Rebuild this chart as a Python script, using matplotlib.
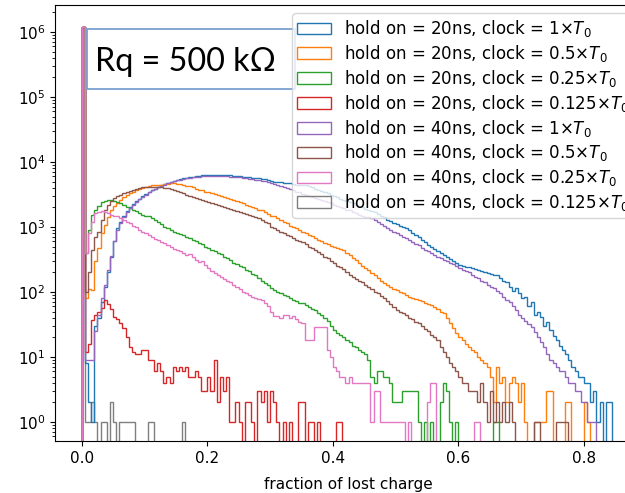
import numpy as np
import matplotlib
matplotlib.use("Agg")
import matplotlib.pyplot as plt
from matplotlib.patches import Rectangle

# histogram bin edges: 0.005 wide, 0 .. 0.85
edges = np.round(np.arange(0, 0.8501, 0.005), 4)

labels = [r"hold on = 20ns, clock = 1$\times T_0$",
          r"hold on = 20ns, clock = 0.5$\times T_0$",
          r"hold on = 20ns, clock = 0.25$\times T_0$",
          r"hold on = 20ns, clock = 0.125$\times T_0$",
          r"hold on = 40ns, clock = 1$\times T_0$",
          r"hold on = 40ns, clock = 0.5$\times T_0$",
          r"hold on = 40ns, clock = 0.25$\times T_0$",
          r"hold on = 40ns, clock = 0.125$\times T_0$"]

# counts per bin (trailing empty bins left out)
h20_c1 = [1200000, 8, 2, 1, 30, 40, 70, 120, 200, 340,
          600, 950, 1200, 1450, 1750, 2000, 2250, 2500, 2700, 2950,
          3200, 3450, 3700, 3900, 4150, 4350, 4550, 4800, 4950, 5150,
          5300, 5450, 5600, 5750, 5850, 5950, 6050, 6150, 6200, 6250,
          6300, 6300, 6300, 6250, 6300, 6250, 6200, 6200, 6150, 6100,
          6050, 5950, 5900, 5850, 5750, 5700, 5600, 5500, 5450, 5350,
          5100, 5000, 4900, 4850, 4800, 4700, 4700, 4600, 4450, 4500,
          4450, 4350, 4200, 4050, 3900, 3750, 3600, 3450, 3300, 3100,
          2950, 2850, 2700, 2600, 2500, 2400, 2300, 2200, 2100, 2000,
          1900, 1800, 1750, 1700, 1600, 1500, 1400, 1300, 1250, 1150,
          1100, 1050, 1000, 950, 900, 820, 760, 700, 640, 580,
          530, 490, 460, 430, 400, 370, 340, 320, 300, 280,
          260, 250, 240, 240, 230, 225, 215, 210, 200, 195,
          190, 185, 180, 165, 150, 140, 120, 105, 115, 96,
          80, 85, 60, 70, 45, 50, 41, 30, 35, 26,
          21, 18, 15, 13, 11, 9, 7, 6, 5, 5,
          4, 4, 2, 3, 1, 2, 0, 2, 2]
h20_c05 = [1200000, 80, 110, 107, 300, 470, 800, 1070, 1400, 1800,
           2100, 2350, 2600, 2900, 3100, 3300, 3500, 3700, 3850, 4000,
           4150, 4250, 4350, 4400, 4450, 4500, 4600, 4650, 4700, 4700,
           4650, 4550, 4450, 4300, 4200, 4050, 3900, 3750, 3650, 3500,
           3400, 3300, 3200, 3100, 3000, 2900, 2800, 2700, 2600, 2500,
           2400, 2300, 2200, 2100, 2050, 1950, 1850, 1800, 1700, 1600,
           1500, 1450, 1350, 1300, 1200, 1150, 1050, 1000, 950, 900,
           850, 800, 760, 720, 680, 640, 600, 570, 540, 510,
           490, 470, 455, 440, 400, 365, 335, 305, 280, 255,
           235, 215, 195, 180, 165, 150, 137, 128, 120, 113,
           107, 100, 95, 90, 84, 80, 78, 75, 72, 68,
           65, 62, 58, 54, 50, 47, 40, 33, 28, 23,
           20, 18, 16, 14, 13, 12, 10, 9, 8, 7,
           5, 2, 7, 4, 5, 2, 4, 5, 4, 2,
           4, 1, 0, 0, 1, 1, 1, 1, 3, 3,
           0, 0, 0, 0, 2, 2, 0, 0, 0, 0,
           2, 1]
h20_c025 = [1200000, 400, 900, 1530, 1800, 2100, 2400, 2550, 2600, 2600,
            2550, 2450, 2350, 2150, 2000, 1950, 1850, 1750, 1650, 1550,
            1500, 1450, 1350, 1300, 1200, 1100, 1000, 950, 900, 850,
            820, 780, 740, 700, 670, 640, 600, 570, 540, 500,
            470, 450, 420, 400, 380, 350, 330, 310, 280, 270,
            250, 240, 220, 210, 190, 180, 165, 150, 137, 130,
            115, 107, 100, 95, 90, 86, 80, 76, 72, 67,
            67, 62, 58, 55, 52, 48, 44, 40, 36, 30,
            26, 23, 22, 20, 18, 17, 15, 14, 13, 12,
            11, 9, 5, 4, 6, 6, 5, 5, 4, 2,
            2, 2, 3, 3, 3, 3, 3, 1, 0, 1,
            0, 1, 0, 0, 2, 4, 3, 1, 0, 1,
            0, 0, 0, 0, 0, 0, 0, 0, 0, 0,
            0, 1, 1]
h20_c0125 = [1200000, 12, 16, 37, 44, 50, 57, 75, 65, 55,
             41, 38, 33, 28, 20, 14, 12, 11, 11, 13,
             13, 9, 9, 6, 8, 6, 4, 5, 4, 7,
             6, 7, 6, 7, 5, 5, 6, 5, 3, 3,
             5, 3, 9, 2, 5, 3, 5, 1, 1, 2,
             1, 0, 2, 2, 1, 0, 3, 2, 3, 1,
             3, 2, 1, 0, 1, 0, 1, 0, 0, 2,
             2, 0, 1, 1, 0, 1, 0, 0, 0, 0,
             0, 1, 1]
h40_c1 = [1200000, 9, 9, 9, 25, 45, 80, 130, 220, 360,
          600, 900, 1150, 1400, 1700, 1950, 2200, 2450, 2700, 2900,
          3150, 3400, 3650, 3900, 4100, 4300, 4500, 4700, 4900, 5050,
          5200, 5350, 5500, 5600, 5700, 5800, 5900, 5950, 6000, 6050,
          6050, 6100, 6100, 6050, 6050, 6000, 6000, 5950, 5900, 5850,
          5800, 5700, 5650, 5550, 5450, 5350, 5250, 5150, 5050, 4950,
          4700, 4550, 4400, 4250, 4100, 3950, 3800, 3650, 3500, 3400,
          3250, 3150, 3000, 2900, 2800, 2700, 2600, 2500, 2400, 2300,
          2200, 2100, 2000, 1950, 1850, 1800, 1700, 1650, 1550, 1500,
          1430, 1400, 1370, 1290, 1200, 1120, 1050, 980, 910, 850,
          800, 750, 710, 670, 630, 590, 550, 520, 480, 450,
          420, 400, 375, 350, 330, 310, 295, 280, 265, 250,
          235, 220, 210, 200, 185, 170, 165, 150, 140, 130,
          120, 115, 105, 96, 85, 75, 70, 60, 52, 45,
          40, 36, 32, 29, 24, 20, 17, 14, 11, 9,
          8, 7, 6, 6, 5, 4, 4, 3, 3, 2,
          2, 1, 1, 1]
h40_c05 = [1200000, 100, 200, 450, 700, 850, 1300, 1800, 2200, 2500,
           2800, 2950, 3100, 3300, 3450, 3600, 3750, 3850, 3950, 4050,
           4100, 4150, 4150, 4100, 4100, 4050, 4000, 3950, 3850, 3750,
           3600, 3450, 3300, 3150, 3000, 2900, 2800, 2700, 2600, 2500,
           2400, 2350, 2250, 2200, 2100, 2050, 1950, 1900, 1800, 1750,
           1700, 1650, 1600, 1550, 1500, 1400, 1350, 1300, 1200, 1150,
           1000, 950, 900, 850, 800, 760, 720, 680, 640, 610,
           580, 540, 500, 470, 440, 410, 380, 350, 330, 300,
           280, 250, 240, 225, 205, 185, 170, 160, 150, 140,
           130, 120, 110, 100, 95, 88, 80, 72, 65, 58,
           53, 50, 47, 45, 40, 38, 35, 33, 30, 27,
           25, 22, 20, 18, 14, 12, 10, 8, 7, 6,
           5, 4, 4, 3, 3, 3, 2, 4, 2, 1,
           3, 1, 2, 1, 2, 1, 2, 1, 0, 0,
           0, 0, 0, 0, 1, 1, 0, 0, 0, 0,
           0, 1, 1, 1, 1]
h40_c025 = [1200000, 400, 800, 1200, 1630, 1700, 1750, 1700, 1650, 1550,
            1500, 1450, 1370, 1300, 1200, 1150, 1050, 1000, 900, 850,
            800, 750, 700, 650, 620, 580, 560, 530, 490, 460,
            440, 420, 400, 370, 390, 340, 310, 290, 300, 260,
            230, 210, 195, 180, 170, 160, 150, 140, 128, 120,
            110, 100, 95, 90, 85, 80, 78, 74, 67, 60,
            50, 42, 42, 40, 44, 44, 40, 42, 38, 35,
            33, 18, 18, 18, 29, 29, 29, 29, 13, 10,
            7, 6, 5, 5, 4, 5, 4, 4, 4, 4,
            4, 4, 1, 3, 3, 1, 1, 1, 1, 1,
            1, 1, 1, 0, 1, 0, 0, 0, 0, 0,
            2, 4, 4, 0, 0, 0, 0, 0, 0, 0,
            0, 0, 0, 0, 0, 1, 1]
h40_c0125 = [1200000, 1, 1, 2, 1, 0, 1, 1, 0, 2,
             1, 0, 1, 1, 1, 1, 1, 0, 0, 0,
             0, 1, 1, 0, 0, 0, 0, 0, 0, 0,
             0, 0, 1]

series = [h20_c1, h20_c05, h20_c025, h20_c0125, h40_c1, h40_c05, h40_c025, h40_c0125]
nbins = len(edges) - 1

fig = plt.figure(figsize=(6.25, 4.93), dpi=100)
ax = fig.add_axes([0.088, 0.1055, 0.9392, 0.8844])
for i, (cnt, lab) in enumerate(zip(series, labels)):
    w = np.array(cnt + [0] * (nbins - len(cnt)), float)
    # grey drawn underneath so the zero-loss spike shows red/pink like the original
    z = 0.9 if i == len(series) - 1 else 1.0 + 0.01 * i
    ax.hist(edges[:-1], bins=edges, weights=w, histtype="step", log=True, label=lab, zorder=z)

ax.set_xlim(-0.0425, 0.8925)
ax.set_ylim(0.51, 2.6e6)
ax.set_xticks([0.0, 0.2, 0.4, 0.6, 0.8])
ax.tick_params(labelsize=11)
ax.set_xlabel("fraction of lost charge", fontsize=11, labelpad=8)
ax.legend(loc="upper right", fontsize=12, labelspacing=0.23, borderpad=0.3,
          handletextpad=0.8)

# annotation box
ax.add_patch(Rectangle((0.0545, 0.807), 0.354, 0.1376, transform=ax.transAxes,
                       fc="white", ec="#7aa1cf", lw=1.3, zorder=5))
ax.text(0.068, 0.849, "Rq = 500 k\u03a9", transform=ax.transAxes, fontsize=23.3,
        family=["Lato", "DejaVu Sans"], va="baseline", ha="left", zorder=6)

fig.savefig("out.png", dpi=100)
